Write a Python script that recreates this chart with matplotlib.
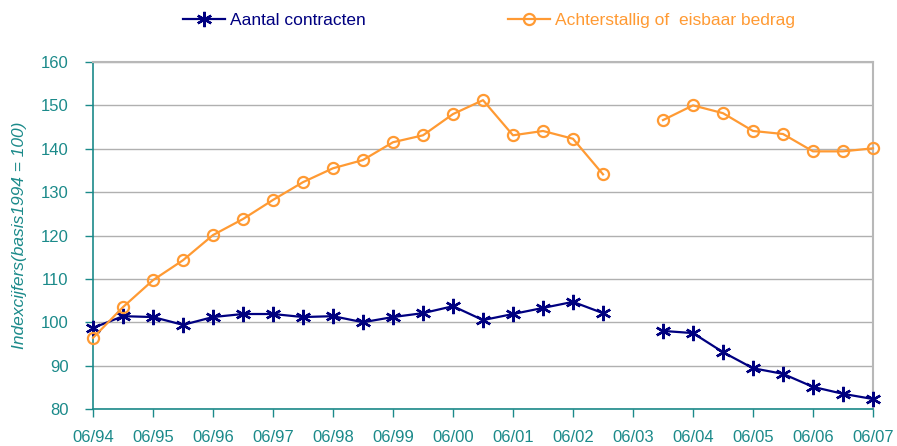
import numpy as np
import matplotlib
matplotlib.use("Agg")
import matplotlib.pyplot as plt

plt.rcParams['font.family'] = ['Liberation Sans', 'DejaVu Sans']

# half-year periods starting 06/94 (index 0) to 06/07 (index 26)
tick_labels = ["06/94", "06/95", "06/96", "06/97", "06/98", "06/99", "06/00",
               "06/01", "06/02", "06/03", "06/04", "06/05", "06/06", "06/07"]

aantal = [98.7, 101.4, 101.2, 99.4, 101.2, 101.9, 101.9, 101.2, 101.4, 100.0,
          101.2, 102.1, 103.7, 100.5, 101.9, 103.3, 104.7, 102.1, np.nan,
          98.0, 97.5, 93.1, 89.4, 88.1, 85.1, 83.5, 82.3]
achterstallig = [96.4, 103.5, 109.7, 114.3, 120.1, 123.8, 128.2, 132.3, 135.5, 137.4,
                 141.5, 143.1, 148.0, 151.2, 143.1, 144.1, 142.3, 134.1, np.nan,
                 146.6, 150.0, 148.2, 144.1, 143.4, 139.4, 139.4, 140.1]

x = np.arange(len(aantal)) / 2.0  # years since 06/94

teal = "#1B8A8A"
navy = "#000080"
orange = "#FF9A33"

fig = plt.figure(figsize=(8.97, 4.46), dpi=100)
ax = fig.add_axes([93/897, 1 - 409/446, (873-93)/897, (409-62)/446])

ax.plot(x, aantal, color=navy, lw=1.6, marker=(6, 2, 0), ms=11, mew=1.7,
        label="Aantal contracten", zorder=3, clip_on=False)
ax.plot(x, achterstallig, color=orange, lw=1.6, marker='o', ms=8, mfc='none',
        mew=1.6, label="Achterstallig of  eisbaar bedrag", zorder=3, clip_on=False)

ax.set_xlim(0, 13)
ax.set_ylim(80, 160)
ax.set_xticks(np.arange(len(tick_labels)))
ax.set_xticklabels(tick_labels)
ax.set_yticks(np.arange(80, 161, 10))

ax.yaxis.grid(True, color="#B0B0B0", lw=1.0)
ax.set_axisbelow(True)

ax.spines["top"].set_color("#B8B8B8")
ax.spines["top"].set_linewidth(1.5)
ax.spines["right"].set_color("#B8B8B8")
ax.spines["right"].set_linewidth(1.5)
ax.spines["left"].set_color(teal)
ax.spines["bottom"].set_color(teal)
ax.spines["left"].set_linewidth(1.2)
ax.spines["bottom"].set_linewidth(1.2)

ax.tick_params(axis='both', colors=teal, labelcolor=teal, labelsize=12,
               width=1.0, direction='out', length=6)
ax.tick_params(axis='x', pad=9)
ax.tick_params(axis='y', pad=11.5)

ax.set_ylabel("Indexcijfers(basis1994 = 100)", color=teal, fontsize=12.5,
              style='italic')
ax.yaxis.set_label_coords(-(93 - 27) / 780, 0.5)

fig.legend(loc='center', bbox_to_anchor=(489/897, 1 - 20/446), ncol=2,
           frameon=False, fontsize=12.5, handlelength=2.4, handletextpad=0.3,
           columnspacing=8.2, labelcolor=[navy, orange], borderpad=0,
           borderaxespad=0)

fig.savefig("out.png", dpi=100)
